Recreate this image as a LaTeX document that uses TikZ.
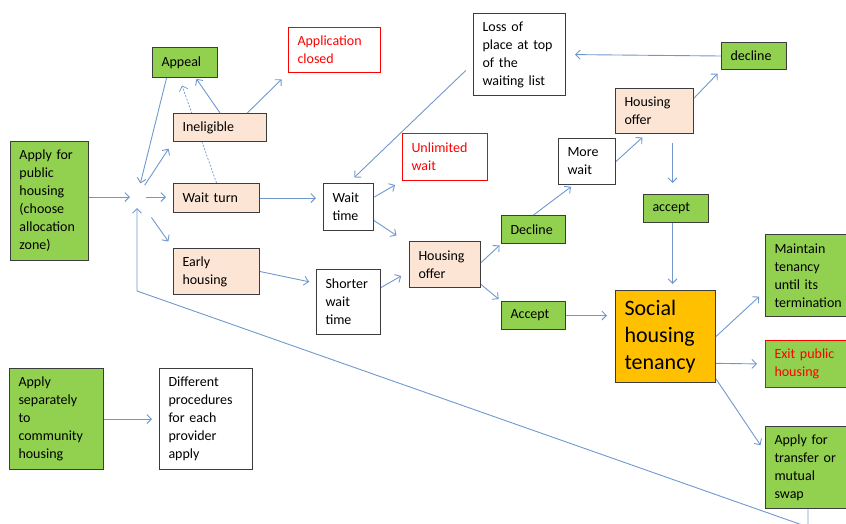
\documentclass[tikz,border=0pt]{standalone}
\usepackage{fontspec}
\setmainfont{Carlito}
\usetikzlibrary{arrows.meta,backgrounds}
\definecolor{boxGreen}{RGB}{146,208,80}
\definecolor{boxPeach}{RGB}{252,229,213}
\definecolor{boxOrange}{RGB}{255,192,0}
\definecolor{boxGray}{RGB}{60,60,60}
\definecolor{lineBlue}{RGB}{112,152,206}
\definecolor{textRed}{RGB}{255,0,0}
\begin{document}
\begin{tikzpicture}
[x=1pt,y=-1pt,
  boxDecorate/.style={draw=boxGray,line width=1pt,anchor=north west,
    inner xsep=9pt,inner ysep=0pt,align=left,font=\fontsize{14}{18}\selectfont},
  greenDecorate/.style={boxDecorate,fill=boxGreen},
  peachDecorate/.style={boxDecorate,fill=boxPeach},
  plainDecorate/.style={boxDecorate,fill=white},
  redDecorate/.style={boxDecorate,fill=white,draw=textRed,text=textRed},
  lineDecorate/.style={-{Straight Barb[length=4.5pt,width=9pt]},draw=lineBlue,line width=0.9pt}]
\useasboundingbox (0,0) rectangle (846,523);
%% boxes
\foreach \nodename/\x/\y/\w/\h/\txt in {
  appeal/152/47/65/30/{Appeal},
  apply/10/141/78/119/{Apply for\\public\\housing\\(choose\\allocation\\zone)},
  declineA/501/215/64/28/{Decline},
  acceptA/501/301/64/28/{Accept},
  declineB/721/42/65/27/{decline},
  acceptB/643/194/65/28/{accept},
  maintain/765/234/85/82/{Maintain\\tenancy\\until its\\termination},
  transfer/765/426/85/82/{Apply for\\transfer or\\mutual\\swap},
  separate/9/368/94/101/{Apply\\separately\\to\\community\\housing}}
{
  \pgfmathsetmacro\tw{\w-18}
  \node (\nodename) at (\x,\y) [greenDecorate,minimum width=\w pt,minimum height=\h pt,text width=\tw pt] {\txt};
}
\foreach \nodename/\x/\y/\w/\h/\txt in {
  inelig/173/113/93/28/{Ineligible},
  waitturn/173/183/86/29/{Wait turn},
  early/173/248/86/46/{Early\\housing},
  offerA/409/241/71/46/{Housing\\offer},
  offerB/615/88/78/45/{Housing\\offer}}
{
  \pgfmathsetmacro\tw{\w-18}
  \node (\nodename) at (\x,\y) [peachDecorate,minimum width=\w pt,minimum height=\h pt,text width=\tw pt] {\txt};
}
\foreach \nodename/\x/\y/\w/\h/\txt in {
  waittime/323/183/50/47/{Wait\\time},
  loss/473/13/92/82/{Loss of\\place at top\\of the\\waiting list},
  shorter/316/269/64/65/{Shorter\\wait\\time},
  morewait/558/138/57/46/{More\\wait},
  different/159/368/93/101/{Different\\procedures\\for each\\provider\\apply}}
{
  \pgfmathsetmacro\tw{\w-18}
  \node (\nodename) at (\x,\y) [plainDecorate,minimum width=\w pt,minimum height=\h pt,text width=\tw pt] {\txt};
}
\foreach \nodename/\x/\y/\w/\h/\txt in {
  closed/288/27/92/45/{Application\\closed},
  unlimited/402/133/85/47/{Unlimited\\wait}}
{
  \pgfmathsetmacro\tw{\w-18}
  \node (\nodename) at (\x,\y) [redDecorate,minimum width=\w pt,minimum height=\h pt,text width=\tw pt] {\txt};
}
\node (exit) at (765,340) [greenDecorate,draw=textRed,text=textRed,
  minimum width=85pt,minimum height=47pt,text width=67pt] {Exit public\\housing};
\node (social) at (615,290) [boxDecorate,fill=boxOrange,font=\fontsize{22}{27}\selectfont,
  minimum width=100pt,minimum height=92pt,text width=82pt] {Social\\housing\\tenancy};
\coordinate (hub) at (137,197);
\coordinate (loopL) at (137,291);
\coordinate (loopR) at (808,527);
%% arrows
\foreach \startnode/\endnode/\sa/\sb in {
  appeal.220/hub/0/14, hub/inelig.south west/14/8, hub/early.north west/25/8,
  inelig.north/appeal.305/0/1, inelig.28/closed.south west/0/9,
  early.east/shorter.150/0/7, waittime.21/unlimited.south west/0/8,
  waittime.332/offerA.150/0/15, shorter.24/offerA.191/0/9,
  loss.191/waittime.north/10/8, offerA.3/declineA.south west/0/2,
  offerA.331/acceptA.north west/0/3, declineA.north/morewait.240/0/3,
  morewait.east/offerB.250/0/5, offerB.18/declineB.south west/0/5,
  declineB.west/loss.east/0/9, social.east/maintain.200/0/8,
  social.332/exit.west/0/8, social.320/transfer.160/0/8,
  separate.east/different.west/0/7}
{
  \draw[lineDecorate,shorten <=\sa pt,shorten >=\sb pt] (\startnode) -- (\endnode);
}
\draw[lineDecorate,shorten >=7pt] (apply.east |- hub) -- (hub);
\draw[lineDecorate,shorten <=9pt,shorten >=7pt] (hub) -- (waitturn.west |- hub);
\draw[lineDecorate,shorten >=7pt] (waitturn.east) -- (waittime.west |- waitturn.east);
\draw[lineDecorate,shorten >=8pt] (acceptA.east) -- (social.west |- acceptA.east);
\draw[lineDecorate,shorten <=9pt,shorten >=11pt] ([xshift=-3.5pt]acceptB.north |- offerB.south) -- ([xshift=-3.5pt]acceptB.north);
\draw[lineDecorate,shorten >=6pt] ([xshift=-3.5pt]acceptB.south) -- ([xshift=-3.5pt]acceptB.south |- social.north);
\draw[lineDecorate,shorten >=11pt] (transfer.south) -- (loopR) -- (loopL) -- (hub);
\begin{pgfonlayer}{background}
\draw[lineDecorate,line width=0.7pt,dash pattern=on 2pt off 1.5pt,shorten >=8pt] (waitturn.north) -- (appeal.250);
\end{pgfonlayer}
\end{tikzpicture}
\end{document}
